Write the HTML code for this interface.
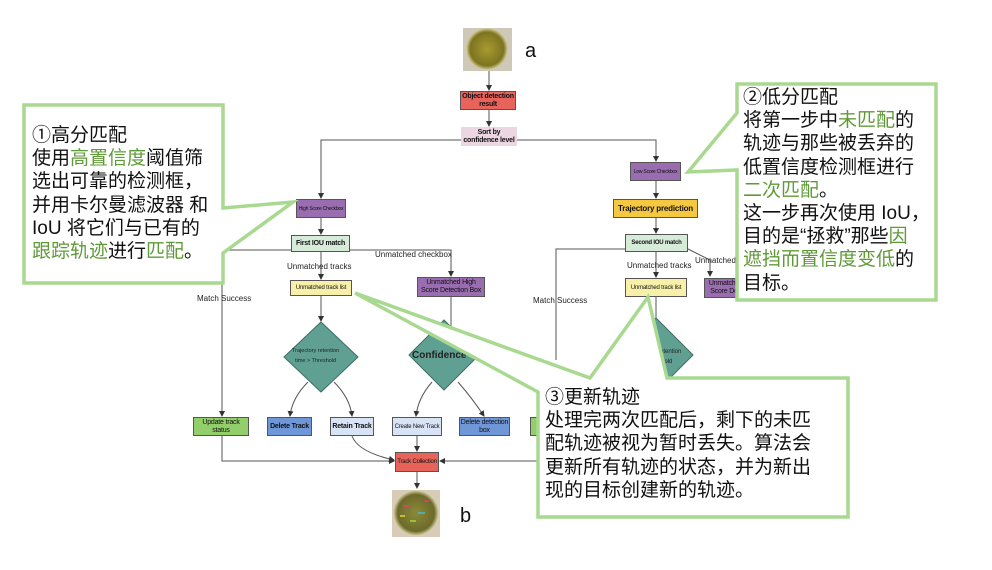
<!DOCTYPE html>
<html><head><meta charset="utf-8"><style>
body{margin:0;width:992px;height:570px;background:#fff;position:relative;overflow:hidden;font-family:"Liberation Sans","Noto Sans CJK SC",sans-serif}
.b{position:absolute;border:1px solid #555;box-sizing:border-box;display:flex;align-items:center;justify-content:center;text-align:center;font-size:7px;line-height:8px;color:#111;font-weight:bold;letter-spacing:-0.2px}
.l{position:absolute;font-size:8px;color:#222;white-space:nowrap}
.t{position:absolute;font-size:19px;line-height:23.2px;color:#111;white-space:nowrap;font-family:"Liberation Sans","Noto Sans CJK SC",sans-serif}
.g{color:#5f9a38}
</style></head><body>
<svg width="992" height="570" style="position:absolute;left:0;top:0">
<defs><marker id="a" markerWidth="6" markerHeight="6" refX="5" refY="3" orient="auto"><path d="M0,0L6,3L0,6z" fill="#333"/></marker>
<radialGradient id="d1"><stop offset="0" stop-color="#a89a30"/><stop offset="0.8" stop-color="#7d7420"/><stop offset="1" stop-color="#d8d0a0"/></radialGradient>
<radialGradient id="d2"><stop offset="0" stop-color="#8a8a3a"/><stop offset="0.8" stop-color="#6e6a2a"/><stop offset="1" stop-color="#e0d8b0"/></radialGradient></defs>
<g stroke="#555" stroke-width="1" fill="none">
<path d="M489,70V90" marker-end="url(#a)"/>
<path d="M489,110V126" marker-end="url(#a)"/>
<path d="M461,140H321V198" marker-end="url(#a)"/>
<path d="M517,140H656V161" marker-end="url(#a)"/>
<path d="M321,218V234" marker-end="url(#a)"/>
<path d="M291,250H222V416" marker-end="url(#a)"/>
<path d="M350,250H451V276" marker-end="url(#a)"/>
<path d="M321,252V279" marker-end="url(#a)"/>
<path d="M321,296V321" marker-end="url(#a)"/>
<path d="M451,296V330"/>
<path d="M308,382Q292,398 290,416" marker-end="url(#a)"/>
<path d="M334,382Q350,398 352,416" marker-end="url(#a)"/>
<path d="M432,382Q418,398 416,416" marker-end="url(#a)"/>
<path d="M458,382Q472,398 484,416" marker-end="url(#a)"/>
<path d="M222,436V461H394" marker-end="url(#a)"/>
<path d="M352,436Q358,452 394,460" marker-end="url(#a)"/>
<path d="M417,436V451" marker-end="url(#a)"/>
<path d="M540,461H440" marker-end="url(#a)"/>
<path d="M417,472V488" marker-end="url(#a)"/>
<path d="M656,181V198" marker-end="url(#a)"/>
<path d="M656,218V233" marker-end="url(#a)"/>
<path d="M625,249H556V360"/>
<path d="M688,249L710,260V276" marker-end="url(#a)"/>
<path d="M656,252V277" marker-end="url(#a)"/>
<path d="M656,297V318"/>
</g>
<polygon points="321,322 358,357 321,392 284,357" fill="#5fa093" stroke="#3d6e66"/>
<polygon points="444,320 479,355 444,390 409,355" fill="#5fa093" stroke="#3d6e66"/>
<polygon points="656,318 693,355 656,392 619,355" fill="#5fa093" stroke="#3d6e66"/>
<rect x="463" y="28" width="49" height="43" fill="#cfc8b8"/><circle cx="487" cy="49" r="21" fill="url(#d1)"/>
<rect x="392" y="490" width="48" height="47" fill="#d8ccb8"/><circle cx="416" cy="513" r="23" fill="url(#d2)"/>
<g fill="#e04080" opacity="0.7"><rect x="403" y="505" width="6" height="2"/><rect x="418" y="512" width="7" height="2" fill="#40c0e0"/><rect x="410" y="520" width="6" height="2" fill="#a0e040"/><rect x="424" y="500" width="5" height="2"/><rect x="400" y="515" width="5" height="2" fill="#e0e040"/></g>
</svg>
<div class="l" style="left:525px;top:40px;font-size:20px;color:#111">a</div>
<div class="l" style="left:460px;top:505px;font-size:20px;color:#111">b</div>
<div class="b" style="left:460px;top:91px;width:56px;height:19px;background:#e8635a">Object detection result</div>
<div class="b" style="left:461px;top:127px;width:56px;height:19px;background:#ecd6e2;border:none">Sort by confidence level</div>
<div class="b" style="left:296px;top:199px;width:50px;height:19px;background:#9a6db0;font-size:5px;font-weight:normal">High Score Checkbox</div>
<div class="b" style="left:630px;top:162px;width:51px;height:19px;background:#9a6db0;font-size:5px;font-weight:normal">Low Score Checkbox</div>
<div class="b" style="left:291px;top:235px;width:59px;height:17px;background:#d6ebd8">First IOU match</div>
<div class="b" style="left:290px;top:280px;width:62px;height:16px;background:#f8f0a8;font-weight:normal;font-size:6px">Unmatched track list</div>
<div class="b" style="left:417px;top:277px;width:68px;height:20px;background:#9a6db0;font-weight:normal">Unmatched High Score Detection Box</div>
<div class="b" style="left:613px;top:199px;width:85px;height:19px;background:#f5c842;font-size:8px">Trajectory prediction</div>
<div class="b" style="left:625px;top:234px;width:63px;height:18px;background:#d6ebd8;font-size:6px">Second IOU match</div>
<div class="b" style="left:625px;top:278px;width:62px;height:19px;background:#f8f0a8;font-weight:normal;font-size:6px">Unmatched track list</div>
<div class="b" style="left:704px;top:278px;width:40px;height:20px;background:#9a6db0;font-weight:normal;justify-content:flex-start">Unmatche Score De</div>
<div class="b" style="left:193px;top:417px;width:56px;height:19px;background:#92cf6a;font-weight:normal">Update track status</div>
<div class="b" style="left:267px;top:417px;width:45px;height:19px;background:#6f97d8">Delete Track</div>
<div class="b" style="left:330px;top:417px;width:44px;height:19px;background:#d8e4f6">Retain Track</div>
<div class="b" style="left:392px;top:417px;width:50px;height:19px;background:#d8e4f6;font-weight:normal;font-size:6px">Create New Track</div>
<div class="b" style="left:459px;top:417px;width:51px;height:19px;background:#6f97d8;font-weight:normal">Delete detection box</div>
<div class="b" style="left:530px;top:417px;width:30px;height:19px;background:#92cf6a"></div>
<div class="b" style="left:395px;top:452px;width:44px;height:20px;background:#e8635a;font-weight:normal;font-size:6px">Track Collection</div>
<div class="l" style="left:292px;top:346px;font-size:5.5px;text-align:center;line-height:10px">Trajectory retention<br>time &gt; Threshold</div>
<div class="l" style="left:412px;top:350px;font-size:10px;font-weight:bold">Confidence</div>
<div class="l" style="left:658px;top:347px;font-size:6px;line-height:10px">retention<br>shold</div>
<div class="l" style="left:197px;top:294px">Match Success</div>
<div class="l" style="left:533px;top:296px">Match Success</div>
<div class="l" style="left:287px;top:262px">Unmatched tracks</div>
<div class="l" style="left:627px;top:261px">Unmatched tracks</div>
<div class="l" style="left:375px;top:250px">Unmatched checkbox</div>
<div class="l" style="left:695px;top:256px">Unmatched</div>
<svg width="992" height="570" style="position:absolute;left:0;top:0">
<g fill="#fff" stroke="#a9d990" stroke-width="3.5" stroke-linejoin="miter">
<polygon points="24,105 223,105 223,208 293,202 223,253 223,283 24,283"/>
<polygon points="737,84 936,84 936,300 737,300 737,170 688,172 737,113"/>
<polygon points="538,392 355,293 590,378 648,297 667,378 848,378 848,517 538,517"/>
</g></svg>
<div class="t" style="left:32px;top:124px">①高分匹配<br>使用<span class="g">高置信度</span>阈值筛<br>选出可靠的检测框，<br>并用卡尔曼滤波器 和<br>IoU 将它们与已有的<br><span class="g">跟踪轨迹</span>进行<span class="g">匹配</span>。</div>
<div class="t" style="left:743px;top:86px">②低分匹配<br>将第一步中<span class="g">未匹配</span>的<br>轨迹与那些被丢弃的<br>低置信度检测框进行<br><span class="g">二次匹配</span>。<br>这一步再次使用 IoU，<br>目的是“拯救”那些<span class="g">因</span><br><span class="g">遮挡而置信度变低</span>的<br>目标。</div>
<div class="t" style="left:545px;top:386px">③更新轨迹<br>处理完两次匹配后，剩下的未匹<br>配轨迹被视为暂时丢失。算法会<br>更新所有轨迹的状态，并为新出<br>现的目标创建新的轨迹。</div>
</body></html>
